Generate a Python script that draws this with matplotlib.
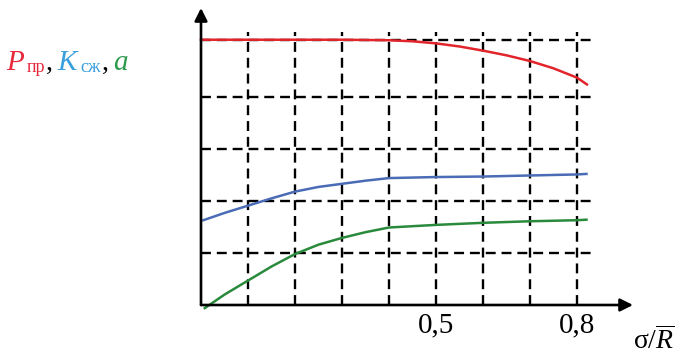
import matplotlib.pyplot as plt

plt.rcParams["font.family"] = "Liberation Serif"
plt.rcParams["mathtext.fontset"] = "custom"
plt.rcParams["mathtext.rm"] = "Liberation Serif"
plt.rcParams["mathtext.it"] = "Liberation Serif:italic"

# values (x: sigma/R, y: grid units)
x_red = [0.0, 0.1, 0.2, 0.3, 0.4, 0.45, 0.5, 0.55, 0.6, 0.65, 0.7, 0.75, 0.8, 0.821]
y_red = [5.1, 5.1, 5.1, 5.1, 5.09, 5.07, 5.03, 4.97, 4.89, 4.80, 4.69, 4.55, 4.37, 4.24]

x_blue = [0.005, 0.05, 0.1, 0.15, 0.2, 0.25, 0.3, 0.35, 0.4, 0.5, 0.6, 0.7, 0.8, 0.82]
y_blue = [1.63, 1.77, 1.91, 2.05, 2.18, 2.27, 2.33, 2.39, 2.44, 2.46, 2.47, 2.49, 2.51, 2.52]

x_green = [0.008, 0.05, 0.1, 0.15, 0.2, 0.25, 0.3, 0.35, 0.4, 0.5, 0.6, 0.7, 0.8, 0.82]
y_green = [-0.06, 0.20, 0.47, 0.74, 0.98, 1.16, 1.29, 1.40, 1.49, 1.54, 1.58, 1.61, 1.63, 1.64]

grid_x = [0.1, 0.2, 0.3, 0.4, 0.5, 0.6, 0.7, 0.8]
grid_y = [1, 2, 3, 4, 5.1]
tick_pos = [0.5, 0.8]
tick_labels = ["0,5", "0,8"]

fig = plt.figure(figsize=(6.81, 3.54), dpi=100)
ax = fig.add_axes([201 / 681, 49 / 354, 432 / 681, 297 / 354])
ax.set_xlim(0, 0.919)
ax.set_ylim(0, 5.71)
for s in ax.spines.values():
    s.set_visible(False)

dash = (0, (4.2, 2.5))
for gx in grid_x:
    ax.plot([gx, gx], [0, 5.25], color="black", lw=1.7, linestyle=dash, zorder=1)
for gy in grid_y:
    ax.plot([0, 0.838], [gy, gy], color="black", lw=1.7, linestyle=dash, zorder=1)

ax.plot(x_red, y_red, color="#e2242b", lw=1.8, zorder=3, clip_on=False)
ax.plot(x_blue, y_blue, color="#4a6bb5", lw=1.8, zorder=3, clip_on=False)
ax.plot(x_green, y_green, color="#2a8a3c", lw=1.8, zorder=3, clip_on=False)

# axes with arrows
arr = dict(arrowstyle="-|>", color="black", lw=1.9, mutation_scale=19, shrinkA=0, shrinkB=0)
ax.annotate("", xy=(0.919, 0), xytext=(0, 0), arrowprops=arr, annotation_clip=False)
ax.annotate("", xy=(0, 5.71), xytext=(0, 0), arrowprops=arr, annotation_clip=False)

ax.set_xticks(tick_pos)
ax.set_xticklabels(tick_labels, fontsize=21)
ax.tick_params(axis="x", length=0, pad=5)
ax.set_yticks([])

fig.text(654 / 681, 1 - 349 / 354, r"$\mathrm{σ}/\overline{R}$", fontsize=20,
         ha="center", va="baseline")

# y label in several colours
by = 1 - 70 / 354
fig.text(6 / 681, by, "P", color="#e5283a", fontsize=21, style="italic", va="baseline")
fig.text(27 / 681, by - 2 / 354, "пр", color="#e5283a", fontsize=13, va="baseline")
fig.text(46 / 681, by, ",", color="black", fontsize=20, va="baseline")
fig.text(57 / 681, by, "K", color="#3a9fdc", fontsize=21, style="italic", va="baseline")
fig.text(80 / 681, by - 2 / 354, "сж", color="#3a9fdc", fontsize=13, va="baseline")
fig.text(102 / 681, by, ",", color="black", fontsize=20, va="baseline")
fig.text(113 / 681, by, "a", color="#2e9a4e", fontsize=21, style="italic", va="baseline")

fig.savefig("out.png", dpi=100)
